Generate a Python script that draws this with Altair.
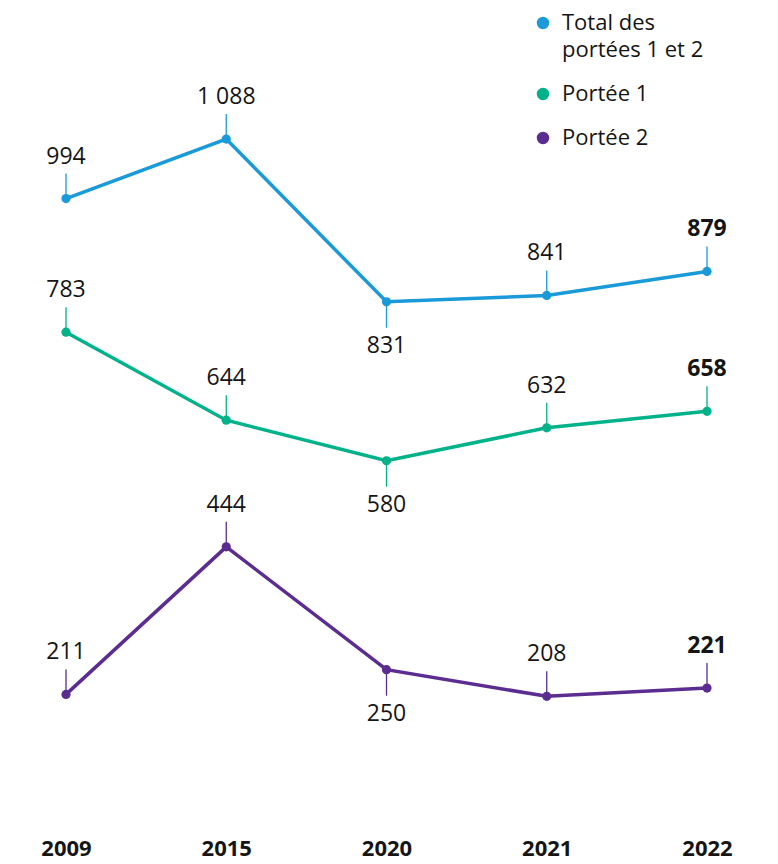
import altair as alt
import pandas as pd

years = ["2009", "2015", "2020", "2021", "2022"]
series = ["Total des portées 1 et 2", "Portée 1", "Portée 2"]
total = [994, 1088, 831, 841, 879]
portee1 = [783, 644, 580, 632, 658]
portee2 = [211, 444, 250, 208, 221]
below_years = ["2020"]
bold_years = ["2022"]
colors = ["#1a9ad8", "#00b289", "#5b2d90"]

rows = []
for name, vals in zip(series, [total, portee1, portee2]):
    for y, v in zip(years, vals):
        rows.append({
            "year": y,
            "series": name,
            "value": v,
            "pos": "down" if y in below_years else "up",
            "bold": y in bold_years,
        })
df = pd.DataFrame(rows)

FONT = "Open Sans"
TXT = "#151515"

base = alt.Chart(df).transform_calculate(
    label="replace(format(datum.value, ','), ',', ' ')"
).encode(
    x=alt.X("year:N", sort=years,
            scale=alt.Scale(type="point", padding=0.362),
            axis=alt.Axis(title=None, labelAngle=0, domain=False, ticks=False, grid=False,
                          labelFontSize=22, labelFontWeight="bold", labelFont=FONT,
                          labelColor=TXT, labelPadding=10)),
    y=alt.Y("value:Q", scale=alt.Scale(domain=[0, 1295]), axis=None),
)

stroke_enc = alt.Stroke("series:N", scale=alt.Scale(domain=series, range=colors), legend=None)
col_legend = alt.Color(
    "series:N", scale=alt.Scale(domain=series, range=colors),
    legend=alt.Legend(
        title=None, orient="none", legendX=524, legendY=4,
        symbolType="circle", symbolSize=120,
        labelFont=FONT, labelFontSize=22, labelColor=TXT, labelLimit=300,
        rowPadding=22, labelOffset=8,
        labelExpr="datum.label == 'Total des portées 1 et 2' ? 'Total des\\nportées 1 et 2' : datum.label",
    ),
)

points = base.mark_circle(size=85, opacity=1).encode(color=col_legend)
lines = base.mark_line(strokeWidth=3.5).encode(stroke=stroke_enc, detail="series:N")
ticks_up = base.transform_filter("datum.pos == 'up'").mark_rule(strokeWidth=1.3, y2Offset=-25).encode(
    y2="value:Q", stroke=stroke_enc)
ticks_down = base.transform_filter("datum.pos == 'down'").mark_rule(strokeWidth=1.3, y2Offset=26).encode(
    y2="value:Q", stroke=stroke_enc)

txt_up = base.transform_filter("datum.pos == 'up' && !datum.bold").mark_text(
    fontSize=23, font=FONT, dy=-42, baseline="middle", color=TXT).encode(text="label:N")
txt_up_bold = base.transform_filter("datum.pos == 'up' && datum.bold").mark_text(
    fontSize=23, font=FONT, fontWeight="bold", dy=-42, baseline="middle", color=TXT).encode(text="label:N")
txt_down = base.transform_filter("datum.pos == 'down'").mark_text(
    fontSize=23, font=FONT, dy=44, baseline="middle", color=TXT).encode(text="label:N")

chart = alt.layer(points, lines, ticks_up, ticks_down, txt_up, txt_up_bold, txt_down).properties(
    width=757, height=820, padding=0
).configure(
    style={"guide-label": {"lineBreak": "\n", "lineHeight": 27}}
).configure_view(stroke=None)

chart.save("out.html", embed_options={"renderer": "svg", "actions": False})
